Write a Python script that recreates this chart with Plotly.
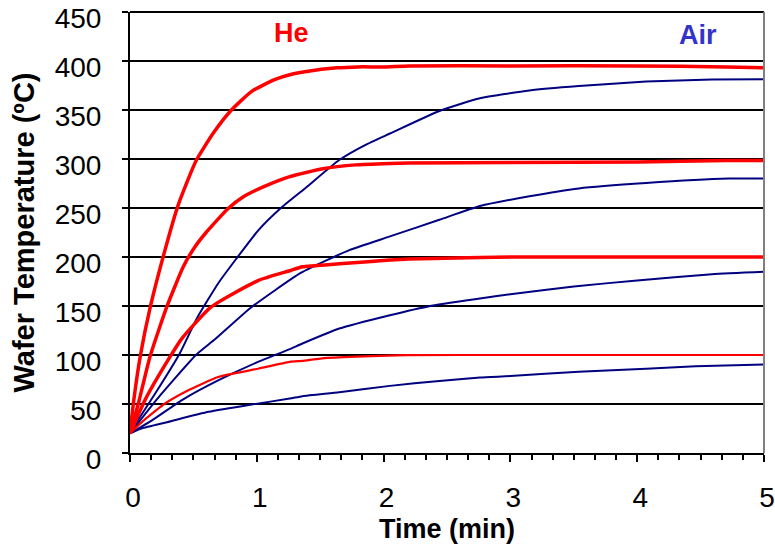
import plotly.graph_objects as go

# ---- data (time in min, temperature in degC) ----
he400_t = [0, 0.03, 0.08, 0.16, 0.28, 0.38, 0.52, 0.66, 0.80, 0.96, 1.14, 1.26, 1.38, 1.63, 1.8, 2.0, 2.2, 3.0, 4.0, 4.7, 5.0]
he400_T = [20, 54, 98, 149, 209, 253, 298, 327, 350, 369, 381, 386, 389, 393, 394, 394, 395, 395, 395, 394, 393]

he300_t = [0, 0.065, 0.157, 0.29, 0.42, 0.51, 0.6, 0.77, 0.9, 1.06, 1.26, 1.52, 1.78, 2.05, 2.2, 3.0, 4.0, 4.7, 5.0]
he300_T = [20, 50, 98, 149, 190, 210, 225, 249, 262, 272, 282, 290, 294, 295.5, 296, 296.5, 297, 298.5, 298.5]

he200_t = [0, 0.118, 0.315, 0.41, 0.64, 1.01, 1.26, 1.36, 1.65, 2.05, 2.2, 2.76, 3.0, 5.0]
he200_T = [20, 54, 98, 117, 149, 176, 186, 190, 193, 197, 198, 199.5, 200, 200]

he100_t = [0, 0.08, 0.21, 0.27, 0.46, 0.695, 1.01, 1.26, 1.36, 1.5, 1.73, 2.18, 3.0, 5.0]
he100_T = [20, 30, 44, 50, 64, 77.6, 86, 93, 94, 96.4, 98, 99.8, 100, 100]

air400_t = [0, 0.06, 0.22, 0.39, 0.53, 0.7, 0.84, 1.01, 1.19, 1.38, 1.65, 1.85, 2.05, 2.44, 2.76, 3.15, 3.54, 4.07, 4.59, 5.0]
air400_T = [20, 33, 65, 101, 138, 174, 198.5, 227, 250, 270, 299, 314, 326, 349, 362, 370, 374.5, 379, 381, 381.5]

air300_t = [0, 0.06, 0.22, 0.52, 0.67, 0.95, 1.35, 1.73, 2.05, 2.44, 2.76, 3.15, 3.54, 4.07, 4.72, 5.0]
air300_T = [20, 30, 56, 100, 116, 148, 184, 207, 221, 238, 252, 262, 270, 275.5, 280, 280]

air200_t = [0, 0.17, 0.41, 0.695, 1.01, 1.26, 1.36, 1.65, 2.05, 2.36, 2.76, 3.0, 3.5, 4.0, 4.59, 5.0]
air200_T = [20, 33, 54, 74, 93, 106, 111.7, 127, 140.6, 149.8, 157.6, 162, 170, 176, 182.5, 185]

air100_t = [0, 0.09, 0.30, 0.62, 0.96, 1.26, 1.36, 1.65, 2.05, 2.44, 2.76, 3.0, 3.54, 4.07, 4.46, 5.0]
air100_T = [20, 25, 31.7, 42, 49.5, 55.5, 58, 62, 68.5, 73.5, 77, 78.5, 83, 86, 88.5, 90.3]

x_ticks = [0, 1, 2, 3, 4, 5]
y_ticks = [0, 50, 100, 150, 200, 250, 300, 350, 400, 450]

RED = "#ff0000"
NAVY = "#000080"

fig = go.Figure()

air_series = [(air100_t, air100_T), (air200_t, air200_T), (air300_t, air300_T), (air400_t, air400_T)]
for t, T in air_series:
    fig.add_trace(go.Scatter(x=t, y=T, mode="lines",
                             line=dict(color=NAVY, width=2, shape="spline", smoothing=0.5),
                             showlegend=False, hoverinfo="skip"))

he_series = [(he100_t, he100_T, 2.2), (he200_t, he200_T, 3.5), (he300_t, he300_T, 3.5), (he400_t, he400_T, 3.5)]
for t, T, w in he_series:
    fig.add_trace(go.Scatter(x=t, y=T, mode="lines",
                             line=dict(color=RED, width=w, shape="spline", smoothing=0.5),
                             showlegend=False, hoverinfo="skip"))

font_family = "Liberation Sans, Arial, sans-serif"

fig.update_layout(
    width=775, height=554,
    margin=dict(l=130, r=11, t=12, b=101, autoexpand=False),
    paper_bgcolor="white", plot_bgcolor="white",
    font=dict(family=font_family, color="black"),
    xaxis=dict(
        range=[0, 5], tickvals=x_ticks, ticktext=[str(v) for v in x_ticks],
        showgrid=False, zeroline=False, automargin=False,
        showline=True, linecolor="black", linewidth=2,
        ticks="outside", ticklen=7, tickwidth=2, tickcolor="black",
        minor=dict(dtick=1/6, ticks="outside", ticklen=5, tickwidth=1.5, tickcolor="black", showgrid=False),
        tickfont=dict(size=28, family=font_family, color="black"),
        ticklabelstandoff=11, ticklabelshift=3, ticklabeloverflow="allow",
        title=dict(text="<b>Time (min)</b>", font=dict(size=27, family=font_family, color="black"), standoff=8),
        fixedrange=True,
    ),
    xaxis2=dict(
        range=[0, 5], tickvals=x_ticks, overlaying="x", anchor="y", side="bottom",
        showgrid=False, zeroline=False, showline=False, showticklabels=False, automargin=False,
        ticks="inside", ticklen=8, tickwidth=2, tickcolor="black",
    ),
    yaxis=dict(
        range=[0, 450], tickvals=y_ticks, ticktext=[str(v) for v in y_ticks],
        showgrid=True, gridcolor="black", gridwidth=2, zeroline=False, automargin=False,
        showline=True, linecolor="black", linewidth=2,
        ticks="outside", ticklen=6, tickwidth=2, tickcolor="black",
        tickfont=dict(size=28, family=font_family, color="black"),
        ticklabelstandoff=15, ticklabelshift=6, ticklabeloverflow="allow",
        title=dict(text="<b>Wafer Temperature (ºC)</b>", font=dict(size=29, family=font_family, color="black"), standoff=12),
        fixedrange=True,
    ),
    shapes=[
        dict(type="line", xref="paper", yref="paper", x0=0, x1=1, y0=1, y1=1,
             line=dict(color="black", width=2)),
        dict(type="line", xref="paper", yref="paper", x0=1, x1=1, y0=0, y1=1,
             line=dict(color="#808080", width=2)),
    ],
    annotations=[
        dict(x=1.276, y=428.5, xref="x", yref="y", text="<b>He</b>", showarrow=False,
             font=dict(size=27, family=font_family, color=RED), xanchor="center", yanchor="middle"),
        dict(x=4.48, y=426.5, xref="x", yref="y", text="<b>Air</b>", showarrow=False,
             font=dict(size=27, family=font_family, color="#3333cc"), xanchor="center", yanchor="middle"),
    ],
)

fig.write_html("out.html")
